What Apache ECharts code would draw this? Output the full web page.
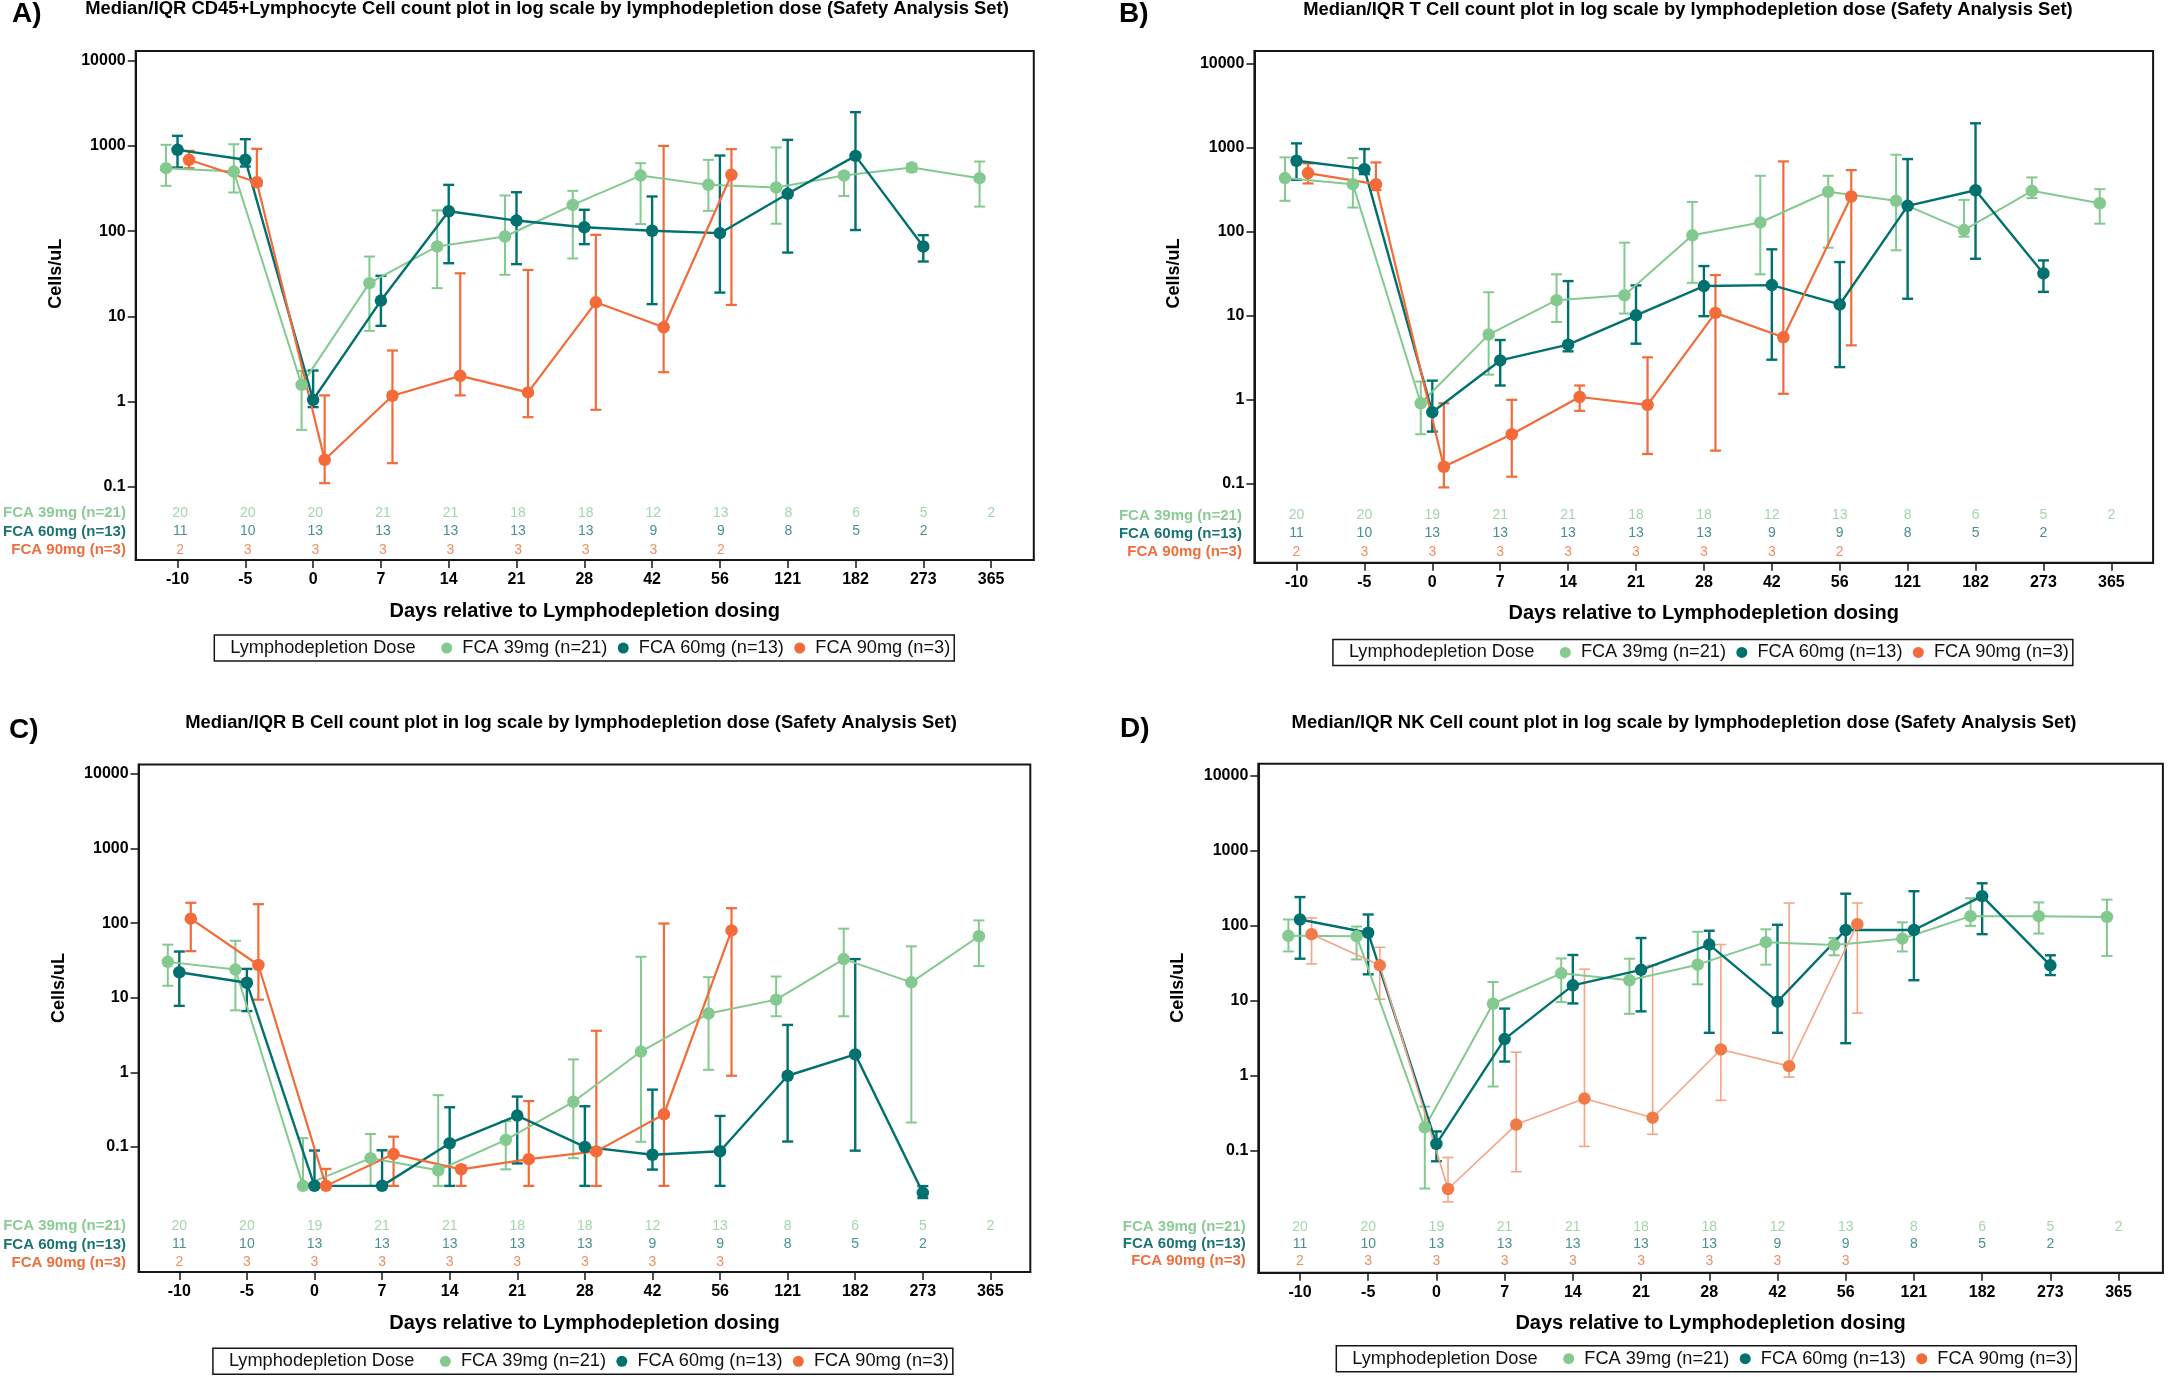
<!DOCTYPE html>
<html>
<head>
<meta charset="utf-8">
<script src="https://cdn.jsdelivr.net/npm/echarts@6/dist/echarts.min.js"></script>
<style>
html,body{margin:0;padding:0;background:#fff;}
#c{width:2168px;height:1377px;}
</style>
</head>
<body>
<div id="c"></div>
<script>
// ---------------- DATA ----------------
const DAYS = ['-10','-5','0','7','14','21','28','42','56','121','182','273','365'];
const DOSES = ['FCA 39mg (n=21)','FCA 60mg (n=13)','FCA 90mg (n=3)'];
const LEGEND_TITLE = 'Lymphodepletion Dose';
const PANEL_LETTERS = ['A)','B)','C)','D)'];
const PANEL_TITLES = [
  'Median/IQR CD45+Lymphocyte Cell count plot in log scale by lymphodepletion dose (Safety Analysis Set)',
  'Median/IQR T Cell count plot in log scale by lymphodepletion dose (Safety Analysis Set)',
  'Median/IQR B Cell count plot in log scale by lymphodepletion dose (Safety Analysis Set)',
  'Median/IQR NK Cell count plot in log scale by lymphodepletion dose (Safety Analysis Set)'
];
const Y_TICKS = [0.1, 1, 10, 100, 1000, 10000];
const X_AXIS_NAME = 'Days relative to Lymphodepletion dosing';
const Y_AXIS_NAME = 'Cells/uL';

// subject counts per visit
const n39_A   = [20,20,20,21,21,18,18,12,13,8,6,5,2];
const n39_BCD = [20,20,19,21,21,18,18,12,13,8,6,5,2];
const n60     = [11,10,13,13,13,13,13,9,9,8,5,2];
const n90_AB  = [2,3,3,3,3,3,3,3,2];
const n90_CD  = [2,3,3,3,3,3,3,3,3];

// Panel A: CD45+ lymphocytes (median, Q1, Q3)
const cd45_39_med = [548,500,1.57,24.5,66,86.5,203,449,349,325,449,557,418];
const cd45_39_q1  = [340,284,0.465,6.75,21.4,30.7,47.7,121,173,122,259,500,194];
const cd45_39_q3  = [1030,1047,2.29,50.3,175,262,297,627,686,958,492,616,656];
const cd45_60_med = [900,687,1.05,15.3,171,133,111,101,94.6,274,764,66];
const cd45_60_q1  = [558,573,0.86,7.73,42,41,70.3,13.9,19,56,103,44];
const cd45_60_q3  = [1313,1200,2.31,29.9,349,286,178,255,771,1178,2489,89.6];
const cd45_90_med = [687,375,0.207,1.17,2.0,1.28,14.6,7.45,458];
const cd45_90_q1  = [548,340,0.110,0.189,1.18,0.655,0.80,2.21,13.6];
const cd45_90_q3  = [875,924,1.18,3.97,32,35,90.4,1000,916];

// Panel B: T cells
const t_39_med = [432,366,0.91,5.96,15.3,17.5,90.2,128,297,232,104,305,217];
const t_39_q1  = [232,193,0.39,1.99,8.43,10.6,24.6,31,64.3,59.8,87,250,124];
const t_39_q3  = [762,748,1.65,19,31,73.8,225,460,460,819,238,440,319];
const t_60_med = [695,552,0.713,2.94,4.53,10.1,22.5,23.1,13.6,202,310,31.8];
const t_60_q1  = [412,482,0.419,1.48,3.77,4.65,9.86,3.0,2.45,15.9,47.5,19.2];
const t_60_q3  = [1117,957,1.69,5.14,25.8,22.9,38.9,61.5,43.4,727,1936,45.4];
const t_90_med = [495,366,0.160,0.39,1.08,0.87,10.8,5.54,261];
const t_90_q1  = [373,311,0.091,0.122,0.74,0.227,0.249,1.18,4.44];
const t_90_q3  = [646,663,0.91,1.0,1.48,3.2,30.4,682,537];

// Panel C: B cells
const b_39_med = [30.3,23.9,0.03,0.0706,0.0486,0.124,0.403,1.90,6.15,9.44,33,16.1,66.8];
const b_39_q1  = [14.5,6.78,0.03,0.03,0.03,0.05,0.0706,0.117,1.08,5.65,5.65,0.212,26.6];
const b_39_q3  = [51.6,58.1,0.131,0.149,0.494,0.221,1.49,35.5,18.9,19.3,84.5,49,109];
const b_60_med = [22,15.9,0.03,0.03,0.112,0.263,0.100,0.0785,0.0874,0.90,1.74,0.0242];
const b_60_q1  = [7.79,6.63,0.03,0.03,0.03,0.060,0.03,0.0496,0.03,0.118,0.089,0.0206];
const b_60_q3  = [41.7,24.4,0.0893,0.09,0.34,0.473,0.351,0.586,0.26,4.32,33,0.0298];
const b_90_med = [115,27.5,0.03,0.08,0.05,0.0684,0.087,0.274,80];
const b_90_q1  = [42.2,9.44,0.03,0.03,0.03,0.03,0.03,0.03,0.90];
const b_90_q3  = [188,180,0.0507,0.137,0.056,0.412,3.61,99.1,159];

// Panel D: NK cells
const nk_39_med = [72.6,72,0.203,9.03,23,18.6,30,59.9,55,66.6,133,133,130];
const nk_39_q1  = [45,35.2,0.031,0.711,9.5,6.63,16.4,30,40,45,98.7,78,39.2];
const nk_39_q3  = [120,96.7,0.384,17.6,36.3,36,82.4,88.8,68,110,231,203,221];
const nk_60_med = [120,79.8,0.122,3.05,15.9,25.6,55.6,9.62,86.9,86.9,246,29.4];
const nk_60_q1  = [36,22.3,0.0716,1.53,9.12,7.15,3.7,3.7,2.69,18.6,76.5,21.8];
const nk_60_q3  = [239,140,0.179,7.78,40.4,68,85,102,265,286,365,40];
const nk_90_med = [76.5,29.4,0.0306,0.221,0.491,0.273,2.22,1.33,104];
const nk_90_q1  = [30.7,10.4,0.0206,0.052,0.113,0.164,0.465,0.95,6.78];
const nk_90_q3  = [126,51.1,0.0805,2.04,26.1,29.4,55.6,199,199];

const PANELS = [
  {med:[cd45_39_med,cd45_60_med,cd45_90_med], q1:[cd45_39_q1,cd45_60_q1,cd45_90_q1], q3:[cd45_39_q3,cd45_60_q3,cd45_90_q3], n:[n39_A,n60,n90_AB]},
  {med:[t_39_med,t_60_med,t_90_med], q1:[t_39_q1,t_60_q1,t_90_q1], q3:[t_39_q3,t_60_q3,t_90_q3], n:[n39_BCD,n60,n90_AB]},
  {med:[b_39_med,b_60_med,b_90_med], q1:[b_39_q1,b_60_q1,b_90_q1], q3:[b_39_q3,b_60_q3,b_90_q3], n:[n39_BCD,n60,n90_CD]},
  {med:[nk_39_med,nk_60_med,nk_90_med], q1:[nk_39_q1,nk_60_q1,nk_90_q1], q3:[nk_39_q3,nk_60_q3,nk_90_q3], n:[n39_BCD,n60,n90_CD]}
];

// ---------------- LAYOUT / STYLE ----------------
const FONT = 'Liberation Sans, Arial, Helvetica, sans-serif';
const W = 2168, H = 1377;
const LAYOUT = [
  {gl:135.7, gr:1033.8, gt:51,    gb:560,    xMin:-0.617, xMax:12.63, yMinExp:-1.860, yMaxExp:4.114, rowTop:504.1,  rowH:18.35, titleX:547,  titleTop:0,   letterX:12,   letterTop:0.5, legLeft:214.3,  legTop:635,    nameShift:31.8},
  {gl:1254.4,gr:2153.1, gt:51,    gb:562.8,  xMin:-0.620, xMax:12.615,yMinExp:-1.937, yMaxExp:4.146, rowTop:506.4,  rowH:18.15, titleX:1688, titleTop:0.7, letterX:1119, letterTop:0.5, legLeft:1332.9, legTop:639.4,  nameShift:33.3},
  {gl:138.6, gr:1030.3, gt:764.4, gb:1272,   xMin:-0.602, xMax:12.59, yMinExp:-2.678, yMaxExp:4.130, rowTop:1217.3, rowH:18.05, titleX:571,  titleTop:714, letterX:9,    letterTop:716, legLeft:212.9,  legTop:1348.3, nameShift:30.2},
  {gl:1258.3,gr:2162.9, gt:763.7, gb:1272.7, xMin:-0.611, xMax:12.65, yMinExp:-2.631, yMaxExp:4.157, rowTop:1218.2, rowH:17,    titleX:1684, titleTop:714, letterX:1120, letterTop:715.5, legLeft:1336.3, legTop:1345.7, nameShift:30.5}
];
const COLORS = ['#84C98F', '#00716F', '#F26B38'];
const LINE_W = [2.0, 2.4, 2.2];
const OFFS = [-0.17, 0, 0.17];
const COUNT_COLORS = ['#8CCB97', '#1C7373', '#EC6F3F'];
const IDX = DAYS.map((d, i) => i);

function makeBar(color, width) {
  return function (params, api) {
    const x = api.value(0), lo = api.value(1), hi = api.value(2);
    const a = api.coord([x, lo]);
    const b = api.coord([x, hi]);
    const hw = 5.5;
    const style = {stroke: color, lineWidth: width, fill: null};
    return {
      type: 'group',
      children: [
        {type: 'line', shape: {x1: a[0], y1: a[1], x2: b[0], y2: b[1]}, style: style},
        {type: 'line', shape: {x1: a[0] - hw, y1: a[1], x2: a[0] + hw, y2: a[1]}, style: style},
        {type: 'line', shape: {x1: b[0] - hw, y1: b[1], x2: b[0] + hw, y2: b[1]}, style: style}
      ]
    };
  };
}

const grids = [], xAxes = [], yAxes = [], series = [], titles = [], legends = [];

LAYOUT.forEach((L, p) => {
  grids.push({left: L.gl, top: L.gt, width: L.gr - L.gl, height: L.gb - L.gt, show: true,
    borderColor: '#161616', borderWidth: 2, backgroundColor: 'transparent', containLabel: false});
  xAxes.push({
    type: 'value', gridIndex: p, min: L.xMin, max: L.xMax,
    axisLine: {show: true, onZero: false, lineStyle: {color: '#161616', width: 2}},
    axisTick: {show: true, length: 8, customValues: IDX, lineStyle: {color: '#161616', width: 1.5}},
    axisLabel: {customValues: IDX, formatter: v => DAYS[Math.round(v)], fontSize: 16, fontWeight: 'bold',
      color: '#000', margin: 12, fontFamily: FONT},
    splitLine: {show: false},
    name: X_AXIS_NAME, nameLocation: 'middle', nameGap: 41,
    nameTextStyle: {fontSize: 20, fontWeight: 'bold', color: '#000', fontFamily: FONT}
  });
  yAxes.push({
    type: 'log', logBase: 10, gridIndex: p, min: Math.pow(10, L.yMinExp), max: Math.pow(10, L.yMaxExp),
    axisLine: {show: true, onZero: false, lineStyle: {color: '#161616', width: 2}},
    axisTick: {show: true, length: 8, customValues: Y_TICKS, lineStyle: {color: '#161616', width: 1.5}},
    axisLabel: {customValues: Y_TICKS, formatter: v => (v < 0.5 ? '0.1' : String(Math.round(v))),
      fontSize: 16, fontWeight: 'bold', color: '#000', margin: 10, fontFamily: FONT},
    splitLine: {show: false}, minorTick: {show: false},
    name: Y_AXIS_NAME, nameLocation: 'middle', nameGap: 71,
    nameTextStyle: {fontSize: 18, fontWeight: 'bold', color: '#000', fontFamily: FONT,
      padding: [0, 0, 0, 2 * L.nameShift]}
  });
  titles.push({text: PANEL_TITLES[p], left: L.titleX, top: L.titleTop, textAlign: 'center', padding: 0,
    textStyle: {fontSize: 18.4, fontWeight: 'bold', color: '#000', fontFamily: FONT}});
  titles.push({text: PANEL_LETTERS[p], left: L.letterX, top: L.letterTop, textAlign: 'left', padding: 0,
    textStyle: {fontSize: 28, fontWeight: 'bold', color: '#000', fontFamily: FONT}});
  legends.push({
    left: L.legLeft, top: L.legTop, orient: 'horizontal', padding: [4, 4, 4, 0], itemGap: 10.4,
    itemWidth: 11, itemHeight: 11, icon: 'circle', selectedMode: false,
    borderColor: '#161616', borderWidth: 1.5, backgroundColor: '#fff',
    formatter: name => (name === LEGEND_TITLE ? name + '   ' : ' ' + name),
    textStyle: {fontSize: 18.2, color: '#111', fontFamily: FONT},
    data: [{name: LEGEND_TITLE, itemStyle: {opacity: 0, color: 'rgba(0,0,0,0)'}}].concat(DOSES)
  });
});

// counts grids (subject numbers under each visit)
LAYOUT.forEach((L, p) => {
  grids.push({left: L.gl, top: L.rowTop, width: L.gr - L.gl, height: 3 * L.rowH, show: false, containLabel: false});
  xAxes.push({type: 'value', gridIndex: 4 + p, min: L.xMin, max: L.xMax, show: false});
  yAxes.push({type: 'category', gridIndex: 4 + p, data: DOSES, inverse: true,
    axisLine: {show: false, onZero: false}, axisTick: {show: false}, splitLine: {show: false},
    axisLabel: {interval: 0, hideOverlap: false, color: v => COUNT_COLORS[DOSES.indexOf(v)],
      fontSize: 15, fontWeight: 'bold', margin: 12.5, fontFamily: FONT}});
});

series.push({type: 'line', name: LEGEND_TITLE, data: [], xAxisIndex: 0, yAxisIndex: 0});

PANELS.forEach((P, p) => {
  for (let d = 0; d < 3; d++) {
    const med = P.med[d], lo = P.q1[d], hi = P.q3[d];
    const pts = [], bars = [];
    med.forEach((v, i) => {
      if (v == null) return;
      pts.push([i + OFFS[d], v]);
      bars.push([i + OFFS[d], lo[i], hi[i]]);
    });
    const light = (p === 3 && d === 2);
    const lineColor = light ? '#F4A585' : COLORS[d];
    const markColor = light ? '#F27A48' : COLORS[d];
    const lw = light ? 1.6 : LINE_W[d];
    series.push({
      type: 'line', name: DOSES[d], xAxisIndex: p, yAxisIndex: p, data: pts,
      symbol: 'circle', symbolSize: 12.5, showSymbol: true,
      itemStyle: {color: markColor}, lineStyle: {color: lineColor, width: lw},
      z: 4, emphasis: {disabled: true}, silent: true
    });
    series.push({
      type: 'custom', name: DOSES[d], xAxisIndex: p, yAxisIndex: p, data: bars,
      encode: {x: 0, y: [1, 2]}, renderItem: makeBar(lineColor, lw), z: 3, silent: true
    });
    series.push({
      type: 'scatter', name: 'n_' + p + '_' + d, xAxisIndex: 4 + p, yAxisIndex: 4 + p,
      data: P.n[d].map((n, i) => [i, d, n]), symbolSize: 0.01, silent: true,
      label: {show: true, position: 'inside', formatter: q => String(q.value[2]),
        color: COUNT_COLORS[d], fontSize: 14, fontFamily: FONT}
    });
  }
});

const chart = echarts.init(document.getElementById('c'), null, {renderer: 'canvas', width: W, height: H});
chart.setOption({
  backgroundColor: '#fff',
  animation: false,
  textStyle: {fontFamily: FONT},
  title: titles,
  legend: legends,
  grid: grids,
  xAxis: xAxes,
  yAxis: yAxes,
  series: series
});
</script>
</body>
</html>
